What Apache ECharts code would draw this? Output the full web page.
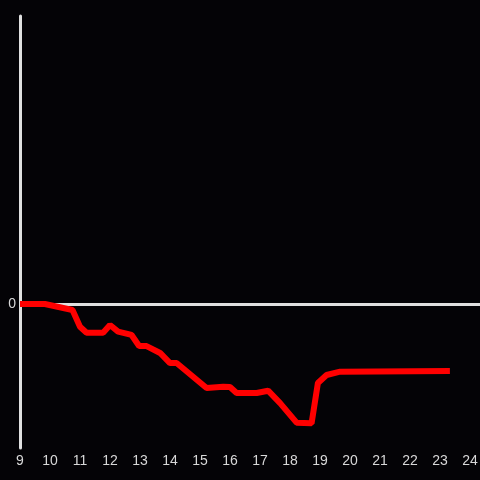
<!DOCTYPE html>
<html>
<head>
<meta charset="utf-8">
<script src="https://cdn.jsdelivr.net/npm/echarts@6/dist/echarts.min.js"></script>
<style>
  html, body { margin: 0; padding: 0; background: #040306; }
  #chart { width: 480px; height: 480px; }
</style>
</head>
<body>
<div id="chart"></div>
<script>
// hours of day (decimal) and values
const hours = [9, 9.83, 10.75, 11, 11.22, 11.77, 12, 12.27, 12.72, 12.97, 13.22, 13.67, 14, 14.22,
  15.22, 15.77, 16, 16.22, 16.89, 17.27, 17.67, 18.22, 18.72, 18.93, 19.22, 19.67, 23.33]
const values = [0, 0, -4.2, -15.8, -20, -20, -14.6, -19.2, -21.5, -29.2, -29.2, -34, -41, -41,
  -58.3, -57.4, -57.6, -61.8, -61.8, -60.2, -68.8, -82.4, -82.8, -54.9, -49.3, -47, -46.5]
const yLabels = [0]

const chart = echarts.init(document.getElementById('chart'))
const option = {
  backgroundColor: '#040306',
  animation: false,
  grid: { left: 20, right: 0, top: 16, bottom: 32, containLabel: false, outerBoundsMode: 'none' },
  xAxis: {
    type: 'value',
    min: 9,
    max: 24 + 1 / 3,
    interval: 1,
    axisLine: { show: false },
    axisTick: { show: false },
    splitLine: { show: false },
    axisLabel: {
      color: '#d8d8d8',
      fontSize: 14,
      margin: 6,
      formatter: v => (Number.isInteger(v) ? String(v) : '')
    }
  },
  yAxis: {
    type: 'value',
    min: -100,
    max: 200,
    interval: 100,
    axisLine: { show: true, lineStyle: { color: '#e0e0e0', width: 3 } },
    axisTick: { show: false },
    splitLine: { show: false },
    axisLabel: {
      color: '#d8d8d8',
      fontSize: 14,
      margin: 4,
      formatter: v => (yLabels.includes(v) ? String(v) : '')
    }
  },
  series: [
    {
      type: 'line',
      data: [],
      z: 1,
      markLine: {
        silent: true,
        z: 1,
        symbol: 'none',
        label: { show: false },
        lineStyle: { color: '#e0e0e0', width: 3, type: 'solid' },
        data: [{ yAxis: 0 }]
      }
    },
    {
      type: 'line',
      z: 5,
      showSymbol: false,
      lineStyle: { color: '#ff0000', width: 6 },
      data: hours.map((h, i) => [h, values[i]])
    }
  ]
}
chart.setOption(option)
</script>
</body>
</html>
